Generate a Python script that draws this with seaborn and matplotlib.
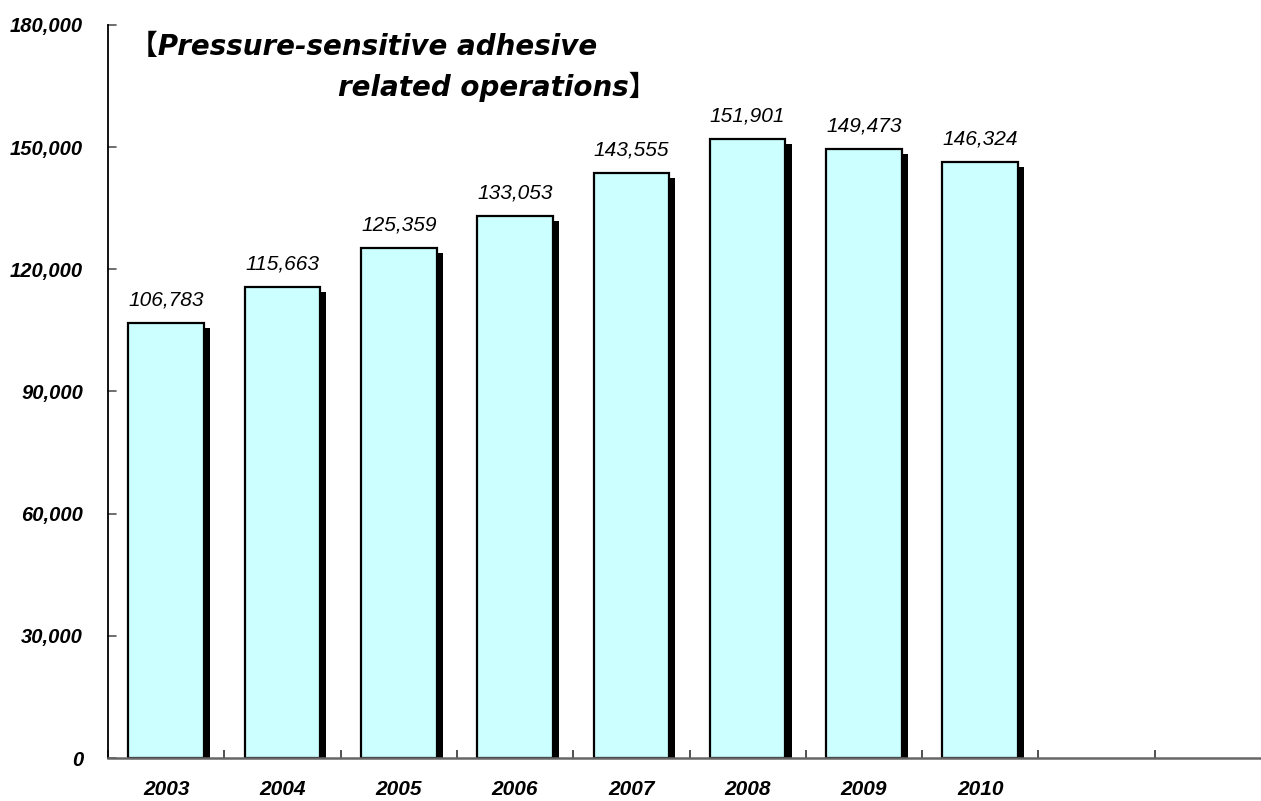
import matplotlib
matplotlib.use("Agg")
import matplotlib.pyplot as plt
import matplotlib.patheffects as pe
import seaborn as sns
import pandas as pd
import numpy as np

categories = ["2003", "2004", "2005", "2006", "2007", "2008", "2009", "2010", "", " "]
values = [106783, 115663, 125359, 133053, 143555, 151901, 149473, 146324, None, None]
y_ticks = [0, 30000, 60000, 90000, 120000, 150000, 180000]
title_line1 = "【Pressure-sensitive adhesive"
title_line2 = "related operations】"

sns.set_theme(style="white")
plt.rcParams['font.family'] = ['Liberation Sans', 'Noto Sans CJK JP']
plt.rcParams['text.color'] = 'black'
plt.rcParams['xtick.color'] = 'black'
plt.rcParams['ytick.color'] = 'black'

fig = plt.figure(figsize=(12.61, 8.01), dpi=100)
ax = fig.add_axes([108/1261, 43/801, 1163/1261, 733/801])

df = pd.DataFrame({"year": categories,
                   "value": [v if v is not None else np.nan for v in values]})
sns.barplot(data=df, x="year", y="value", order=categories, color="#CCFFFF",
            edgecolor="black", linewidth=1.6, width=0.65, saturation=1, ax=ax)

for patch in ax.patches:
    h = patch.get_height()
    if not np.isfinite(h) or h == 0:
        patch.set_visible(False)
        continue
    patch.set_path_effects([pe.SimplePatchShadow(offset=(4.5, -3.6), shadow_rgbFace="black", alpha=1.0),
                            pe.Normal()])

for i, v in enumerate(values):
    if v is not None:
        ax.text(i, v + 3300, f"{v:,}", ha="center", va="bottom", fontsize=15,
                style="italic", color="black")

ax.set_xlim(-0.5, 9.5)
ax.set_ylim(0, 180000)
ax.set_yticks(y_ticks)
ax.set_yticklabels([f"{t:,}" for t in y_ticks], fontsize=14.5, fontweight="bold", style="italic")
ax.set_xticks(range(len(categories)))
ax.set_xticklabels(categories, fontsize=15, fontweight="bold", style="italic")
ax.tick_params(axis="x", which="major", length=0, pad=16)
ax.tick_params(axis="y", length=0, pad=18)
ax.set_xticks([i + 0.5 for i in range(-1, 10)], minor=True)
ax.tick_params(axis="x", which="minor", bottom=True, direction="in", length=6,
               width=1.2, color="#333333")
ax.set_ylabel("")
ax.set_xlabel("")

for t in y_ticks:
    ax.plot([-0.5, -0.43], [t, t], color="#555555", lw=1.2, clip_on=False)

for s in ["top", "right"]:
    ax.spines[s].set_visible(False)
ax.spines["left"].set_color("black")
ax.spines["left"].set_linewidth(1.3)
ax.spines["bottom"].set_color("#666666")
ax.spines["bottom"].set_linewidth(1.8)

title_font = ['DejaVu Sans', 'Noto Sans CJK JP']
fig.text(130/1261, 1 - 47/801, title_line1, fontsize=20, fontweight="bold", style="italic",
         ha="left", va="center", family=title_font)
fig.text(656/1261, 1 - 87/801, title_line2, fontsize=20, fontweight="bold", style="italic",
         ha="right", va="center", family=title_font)

fig.savefig("out.png", dpi=100)
